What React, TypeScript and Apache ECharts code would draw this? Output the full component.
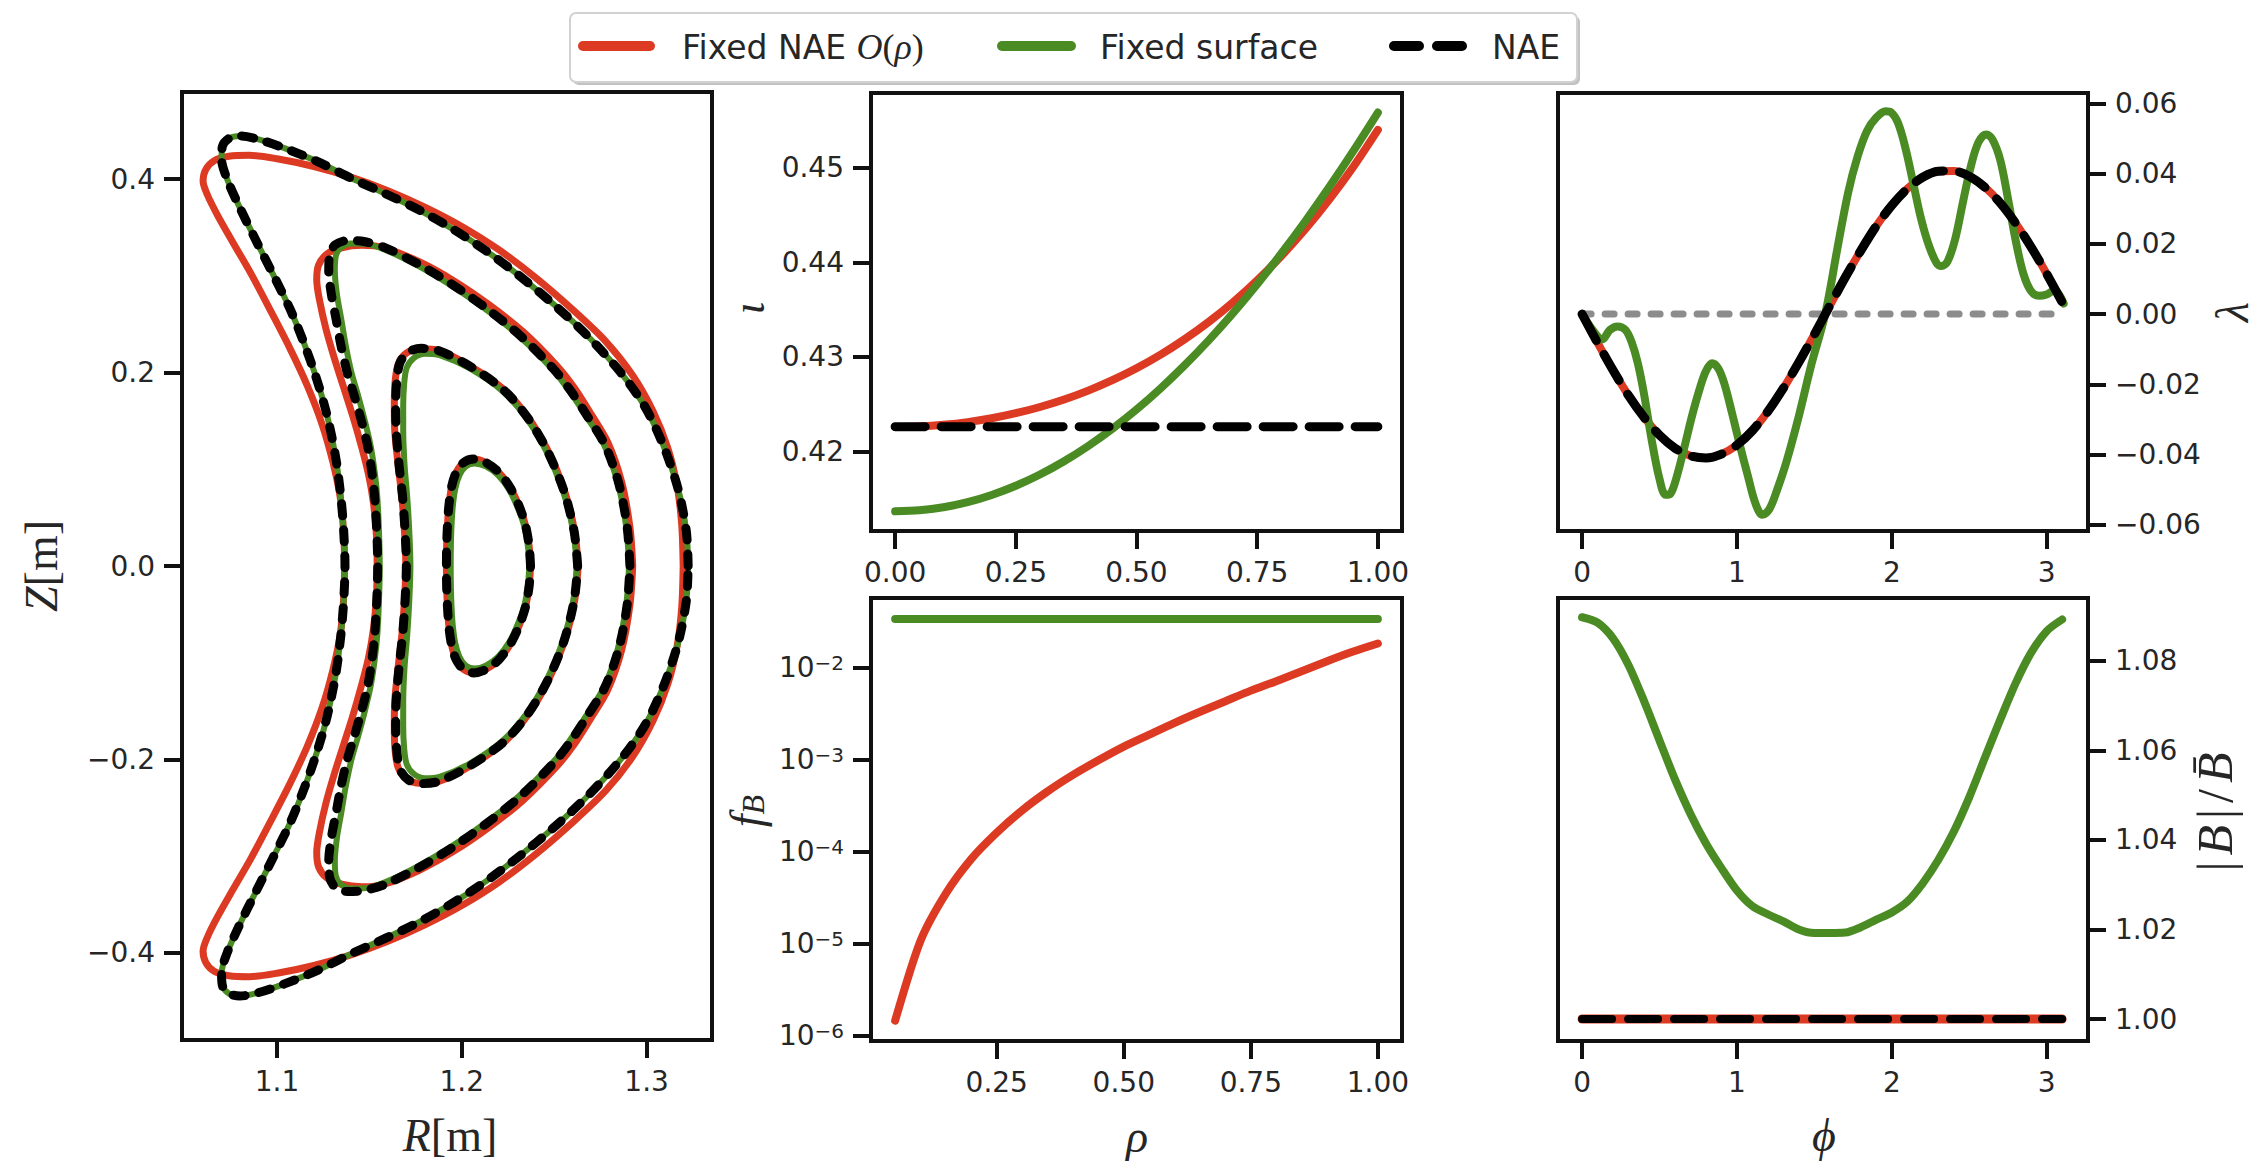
import React, { useEffect, useRef } from "react";
import * as echarts from "echarts";

// ---------- colours ----------
const RED = "#dd3a23";
const GREEN = "#4b8b24";
const BLACK = "#000000";
const GREY = "#8c8c8c";
const INK = "#111111";
const TEXT = "#262626";

// ---------- tick values ----------
const rTicks = [1.1, 1.2, 1.3];
const zTicks = [-0.4, -0.2, 0, 0.2, 0.4];
const rhoTicksTop = [0, 0.25, 0.5, 0.75, 1];
const iotaTicks = [0.42, 0.43, 0.44, 0.45];
const rhoTicksBottom = [0.25, 0.5, 0.75, 1];
const fbTicks = [1e-6, 1e-5, 1e-4, 1e-3, 1e-2];
const phiTicks = [0, 1, 2, 3];
const lambdaTicks = [-0.06, -0.04, -0.02, 0, 0.02, 0.04, 0.06];
const bTicks = [1.0, 1.02, 1.04, 1.06, 1.08];

// ---------- cross-section (R, Z) ----------
// upper halves: outboard point -> over the top -> inboard point
// lower halves: inboard point -> underneath -> outboard point
const naeOuterUpper = [
  [1.3225, 0.0], [1.3215, 0.036], [1.317, 0.08], [1.309, 0.125], [1.299, 0.165], [1.286, 0.2], [1.268, 0.238],
  [1.25, 0.27], [1.2315, 0.2995], [1.213, 0.326], [1.195, 0.3485], [1.177, 0.368], [1.1585, 0.385], [1.14, 0.401],
  [1.122, 0.418], [1.104, 0.432], [1.09, 0.441], [1.08, 0.4445], [1.074, 0.442], [1.0705, 0.434], [1.07, 0.421],
  [1.073, 0.4], [1.0795, 0.372], [1.0885, 0.337], [1.098, 0.301], [1.107, 0.266], [1.1145, 0.231], [1.1215, 0.193],
  [1.1272, 0.155], [1.1318, 0.112], [1.1346, 0.071], [1.1361, 0.036], [1.1368, 0.0],
];
const naeOuterLower = [
  [1.1361, -0.036], [1.1346, -0.071], [1.1318, -0.112], [1.1272, -0.155], [1.1215, -0.193], [1.1145, -0.231],
  [1.107, -0.266], [1.098, -0.301], [1.0885, -0.337], [1.0795, -0.372], [1.073, -0.4], [1.07, -0.421],
  [1.0705, -0.434], [1.074, -0.442], [1.08, -0.4445], [1.09, -0.441], [1.104, -0.432], [1.122, -0.418],
  [1.14, -0.401], [1.1585, -0.385], [1.177, -0.368], [1.195, -0.3485], [1.213, -0.326], [1.2315, -0.2995],
  [1.25, -0.27], [1.268, -0.238], [1.286, -0.2], [1.299, -0.165], [1.309, -0.125], [1.317, -0.08], [1.3215, -0.036],
  [1.3225, 0.0],
];
const fixedNaeOuterUpper = [
  [1.3198, 0.0], [1.319, 0.043], [1.3165, 0.083], [1.3115, 0.122], [1.3035, 0.16], [1.2925, 0.197], [1.278, 0.232],
  [1.26, 0.265], [1.24, 0.298], [1.22, 0.327], [1.2, 0.351], [1.18, 0.371], [1.16, 0.388], [1.14, 0.402],
  [1.12, 0.413], [1.1, 0.421], [1.085, 0.4245], [1.074, 0.4235], [1.066, 0.419], [1.0615, 0.41], [1.06, 0.398],
  [1.0625, 0.383], [1.068, 0.362], [1.076, 0.335], [1.086, 0.302], [1.0965, 0.264], [1.107, 0.225], [1.1165, 0.186],
  [1.1245, 0.146], [1.1303, 0.107], [1.1342, 0.071], [1.136, 0.036], [1.1366, 0.0],
];
const fixedNaeOuterLower = [
  [1.136, -0.036], [1.1342, -0.071], [1.1303, -0.107], [1.1245, -0.146], [1.1165, -0.186], [1.107, -0.225],
  [1.0965, -0.264], [1.086, -0.302], [1.076, -0.335], [1.068, -0.362], [1.0625, -0.383], [1.06, -0.398],
  [1.0615, -0.41], [1.066, -0.419], [1.074, -0.4235], [1.085, -0.4245], [1.1, -0.421], [1.12, -0.413],
  [1.14, -0.402], [1.16, -0.388], [1.18, -0.371], [1.2, -0.351], [1.22, -0.327], [1.24, -0.298], [1.26, -0.265],
  [1.278, -0.232], [1.2925, -0.197], [1.3035, -0.16], [1.3115, -0.122], [1.3165, -0.083], [1.319, -0.043],
  [1.3198, 0.0],
];
const naeSecondUpper = [
  [1.291, 0.0], [1.2895, 0.04], [1.285, 0.085], [1.2775, 0.125], [1.2681, 0.1545], [1.259, 0.181], [1.2498, 0.2034],
  [1.2315, 0.2384], [1.2133, 0.2663], [1.195, 0.2908], [1.1767, 0.3118], [1.1584, 0.3292], [1.147, 0.3355],
  [1.138, 0.3365], [1.1315, 0.332], [1.1285, 0.322], [1.128, 0.305], [1.1295, 0.28], [1.132, 0.255], [1.1346, 0.228],
  [1.138, 0.2], [1.1419, 0.1755], [1.146, 0.148], [1.1492, 0.123], [1.1515, 0.095], [1.1529, 0.0706], [1.154, 0.035],
  [1.1545, 0.0],
];
const naeSecondLower = [
  [1.154, -0.035], [1.1529, -0.0706], [1.1515, -0.095], [1.1492, -0.123], [1.146, -0.148], [1.1419, -0.1755],
  [1.138, -0.2], [1.1346, -0.228], [1.132, -0.255], [1.1295, -0.28], [1.128, -0.305], [1.1285, -0.322],
  [1.1315, -0.332], [1.138, -0.3365], [1.147, -0.3355], [1.1584, -0.3292], [1.1767, -0.3118], [1.195, -0.2908],
  [1.2133, -0.2663], [1.2315, -0.2384], [1.2498, -0.2034], [1.259, -0.181], [1.2681, -0.1545], [1.2775, -0.125],
  [1.285, -0.085], [1.2895, -0.04], [1.291, 0.0],
];
const fixedNaeSecondUpper = [
  [1.2925, 0.0], [1.291, 0.04], [1.2865, 0.087], [1.279, 0.128], [1.27, 0.157], [1.261, 0.184], [1.2515, 0.207],
  [1.233, 0.2425], [1.2145, 0.2705], [1.196, 0.2945], [1.177, 0.3145], [1.158, 0.329], [1.146, 0.3315],
  [1.135, 0.329], [1.127, 0.3225], [1.1225, 0.311], [1.1215, 0.296], [1.123, 0.275], [1.1265, 0.245], [1.131, 0.215],
  [1.136, 0.185], [1.141, 0.155], [1.1455, 0.125], [1.1495, 0.095], [1.1522, 0.065], [1.1538, 0.032], [1.1542, 0.0],
];
const fixedNaeSecondLower = [
  [1.1538, -0.032], [1.1522, -0.065], [1.1495, -0.095], [1.1455, -0.125], [1.141, -0.155], [1.136, -0.185],
  [1.131, -0.215], [1.1265, -0.245], [1.123, -0.275], [1.1215, -0.296], [1.1225, -0.311], [1.127, -0.3225],
  [1.135, -0.329], [1.146, -0.3315], [1.158, -0.329], [1.177, -0.3145], [1.196, -0.2945], [1.2145, -0.2705],
  [1.233, -0.2425], [1.2515, -0.207], [1.261, -0.184], [1.27, -0.157], [1.279, -0.128], [1.2865, -0.087],
  [1.291, -0.04], [1.2925, 0.0],
];
const surfaceSecondUpper = [
  [1.2905, 0.0], [1.289, 0.04], [1.2845, 0.085], [1.277, 0.125], [1.2676, 0.154], [1.2585, 0.18], [1.2493, 0.203],
  [1.231, 0.2378], [1.2128, 0.2655], [1.1945, 0.2898], [1.1762, 0.3105], [1.1584, 0.327], [1.148, 0.333],
  [1.14, 0.3335], [1.1345, 0.329], [1.1318, 0.32], [1.1313, 0.305], [1.1325, 0.28], [1.1348, 0.255], [1.1372, 0.228],
  [1.1403, 0.2], [1.144, 0.1755], [1.1478, 0.148], [1.1508, 0.123], [1.153, 0.095], [1.1543, 0.0706], [1.1552, 0.035],
  [1.1556, 0.0],
];
const surfaceSecondLower = [
  [1.1552, -0.035], [1.1543, -0.0706], [1.153, -0.095], [1.1508, -0.123], [1.1478, -0.148], [1.144, -0.1755],
  [1.1403, -0.2], [1.1372, -0.228], [1.1348, -0.255], [1.1325, -0.28], [1.1313, -0.305], [1.1318, -0.32],
  [1.1345, -0.329], [1.14, -0.3335], [1.148, -0.333], [1.1584, -0.327], [1.1762, -0.3105], [1.1945, -0.2898],
  [1.2128, -0.2655], [1.231, -0.2378], [1.2493, -0.203], [1.2585, -0.18], [1.2676, -0.154], [1.277, -0.125],
  [1.2845, -0.085], [1.289, -0.04], [1.2905, 0.0],
];
const naeThirdUpper = [
  [1.2627, 0.0], [1.2608, 0.0356], [1.2553, 0.0776], [1.2462, 0.1195], [1.2352, 0.1545], [1.2224, 0.1824],
  [1.2041, 0.2069], [1.1876, 0.2226], [1.178, 0.225], [1.171, 0.221], [1.1665, 0.21], [1.1648, 0.19],
  [1.1642, 0.1655], [1.1645, 0.1405], [1.166, 0.1056], [1.168, 0.0706], [1.1693, 0.0356], [1.17, 0.0],
];
const naeThirdLower = [
  [1.1693, -0.0356], [1.168, -0.0706], [1.166, -0.1056], [1.1645, -0.1405], [1.1642, -0.1655], [1.1648, -0.19],
  [1.1665, -0.21], [1.171, -0.221], [1.178, -0.225], [1.1876, -0.2226], [1.2041, -0.2069], [1.2224, -0.1824],
  [1.2352, -0.1545], [1.2462, -0.1195], [1.2553, -0.0776], [1.2608, -0.0356], [1.2627, 0.0],
];
const fixedNaeThirdUpper = [
  [1.263, 0.0], [1.2611, 0.0356], [1.2556, 0.0778], [1.2465, 0.1198], [1.2355, 0.1548], [1.2226, 0.1828],
  [1.2041, 0.2073], [1.1876, 0.2228], [1.1775, 0.2245], [1.17, 0.22], [1.1655, 0.208], [1.1638, 0.188],
  [1.1635, 0.1655], [1.1637, 0.1405], [1.1655, 0.1056], [1.1676, 0.0706], [1.169, 0.0356], [1.1697, 0.0],
];
const fixedNaeThirdLower = [
  [1.169, -0.0356], [1.1676, -0.0706], [1.1655, -0.1056], [1.1637, -0.1405], [1.1635, -0.1655], [1.1638, -0.188],
  [1.1655, -0.208], [1.17, -0.22], [1.1775, -0.2245], [1.1876, -0.2228], [1.2041, -0.2073], [1.2226, -0.1828],
  [1.2355, -0.1548], [1.2465, -0.1198], [1.2556, -0.0778], [1.2611, -0.0356], [1.263, 0.0],
];
const surfaceThirdUpper = [
  [1.2622, 0.0], [1.2603, 0.0356], [1.2548, 0.0772], [1.2457, 0.1188], [1.2347, 0.1535], [1.2219, 0.181],
  [1.2041, 0.2045], [1.188, 0.218], [1.18, 0.2195], [1.174, 0.215], [1.1702, 0.205], [1.1688, 0.188],
  [1.1683, 0.1655], [1.1683, 0.1405], [1.169, 0.1056], [1.1705, 0.0706], [1.1716, 0.0356], [1.1722, 0.0],
];
const surfaceThirdLower = [
  [1.1716, -0.0356], [1.1705, -0.0706], [1.169, -0.1056], [1.1683, -0.1405], [1.1683, -0.1655], [1.1688, -0.188],
  [1.1702, -0.205], [1.174, -0.215], [1.18, -0.2195], [1.188, -0.218], [1.2041, -0.2045], [1.2219, -0.181],
  [1.2347, -0.1535], [1.2457, -0.1188], [1.2548, -0.0772], [1.2603, -0.0356], [1.2622, 0.0],
];
const naeInnerUpper = [
  [1.2372, 0.0], [1.2365, 0.02], [1.2345, 0.042], [1.231, 0.062], [1.2262, 0.081], [1.22, 0.097], [1.213, 0.107],
  [1.2065, 0.1105], [1.201, 0.107], [1.197, 0.097], [1.1945, 0.082], [1.193, 0.062], [1.1922, 0.04], [1.1918, 0.02],
  [1.1917, 0.0],
];
const naeInnerLower = [
  [1.1918, -0.02], [1.1922, -0.04], [1.193, -0.062], [1.1945, -0.082], [1.197, -0.097], [1.201, -0.107],
  [1.2065, -0.1105], [1.213, -0.107], [1.22, -0.097], [1.2262, -0.081], [1.231, -0.062], [1.2345, -0.042],
  [1.2365, -0.02], [1.2372, 0.0],
];
const surfaceInnerUpper = [
  [1.2365, 0.0], [1.2358, 0.02], [1.2338, 0.041], [1.2303, 0.06], [1.2256, 0.079], [1.2196, 0.094], [1.213, 0.103],
  [1.207, 0.106], [1.2022, 0.103], [1.1988, 0.094], [1.1965, 0.08], [1.1951, 0.061], [1.1944, 0.04], [1.1941, 0.02],
  [1.194, 0.0],
];
const surfaceInnerLower = [
  [1.1941, -0.02], [1.1944, -0.04], [1.1951, -0.061], [1.1965, -0.08], [1.1988, -0.094], [1.2022, -0.103],
  [1.207, -0.106], [1.213, -0.103], [1.2196, -0.094], [1.2256, -0.079], [1.2303, -0.06], [1.2338, -0.041],
  [1.2358, -0.02], [1.2365, 0.0],
];

// ---------- rotational transform vs rho ----------
const rho = [0, 0.05, 0.1, 0.15, 0.2, 0.25, 0.3, 0.35, 0.4, 0.45, 0.5, 0.55, 0.6, 0.65, 0.7, 0.75, 0.8, 0.85, 0.9, 0.95, 1.0];
const iotaFixedNae = [0.4226, 0.42266, 0.42283, 0.42311, 0.42352, 0.42405, 0.42471, 0.4255, 0.42644, 0.42754, 0.4288,
  0.43024, 0.43188, 0.43372, 0.43579, 0.4381, 0.44067, 0.44352, 0.44668, 0.45016, 0.454];
const iotaFixedSurface = [0.41368, 0.41379, 0.41411, 0.41465, 0.41541, 0.41638, 0.41757, 0.41897, 0.42059, 0.42241,
  0.42444, 0.42668, 0.42913, 0.43178, 0.43463, 0.43768, 0.44093, 0.44437, 0.44801, 0.45183, 0.45583];
const iotaNae = [0.42263, 0.42263, 0.42263, 0.42263, 0.42263, 0.42263, 0.42263, 0.42263, 0.42263, 0.42263, 0.42263,
  0.42263, 0.42263, 0.42263, 0.42263, 0.42263, 0.42263, 0.42263, 0.42263, 0.42263, 0.42263];

// ---------- f_B vs rho ----------
const rhoFb = [0.05, 0.1, 0.15, 0.2, 0.25, 0.3, 0.35, 0.4, 0.45, 0.5, 0.55, 0.6, 0.65, 0.7, 0.75, 0.8, 0.85, 0.9, 0.95, 1.0];
const fbFixedNae = [1.45e-6, 1.07e-5, 3.5e-5, 8.3e-5, 1.6e-4, 2.8e-4, 4.5e-4, 6.8e-4, 9.8e-4, 1.38e-3, 1.86e-3, 2.5e-3,
  3.3e-3, 4.3e-3, 5.6e-3, 7.1e-3, 9.1e-3, 1.17e-2, 1.48e-2, 1.82e-2];
const fbFixedSurface = [0.0337, 0.0337, 0.0337, 0.0337, 0.0337, 0.0337, 0.0337, 0.0337, 0.0337, 0.0337, 0.0337, 0.0337,
  0.0337, 0.0337, 0.0337, 0.0337, 0.0337, 0.0337, 0.0337, 0.0337];

// ---------- lambda and |B| vs phi ----------
const phi = [0, 0.1, 0.2, 0.3, 0.4, 0.5, 0.6, 0.7, 0.8, 0.9, 1.0, 1.1, 1.2, 1.3, 1.4, 1.5, 1.6, 1.7, 1.8, 1.9, 2.0, 2.1,
  2.2, 2.3, 2.4, 2.5, 2.6, 2.7, 2.8, 2.9, 3.0, 3.1];
const lambdaNae = [0, -0.0082, -0.016, -0.0232, -0.0294, -0.0345, -0.0382, -0.0404, -0.041, -0.0399, -0.0373, -0.0332,
  -0.0277, -0.0211, -0.0137, -0.0058, 0.0024, 0.0105, 0.0181, 0.0251, 0.031, 0.0357, 0.039, 0.0407, 0.0408, 0.0393,
  0.0362, 0.0317, 0.0259, 0.0191, 0.0115, 0.0034];
const lambdaFixedNae = [0, -0.0082, -0.016, -0.0232, -0.0294, -0.0345, -0.0382, -0.0404, -0.041, -0.0399, -0.0373,
  -0.0332, -0.0277, -0.0211, -0.0137, -0.0058, 0.0024, 0.0105, 0.0181, 0.0251, 0.031, 0.0357, 0.039, 0.0407, 0.0408,
  0.0393, 0.0362, 0.0317, 0.0259, 0.0191, 0.0115, 0.0034];
const phiSurface = [0, 0.06, 0.13, 0.18, 0.228, 0.28, 0.32, 0.36, 0.4, 0.45, 0.5, 0.54, 0.57, 0.61, 0.66, 0.71, 0.76,
  0.8, 0.84, 0.88, 0.92, 0.97, 1.02, 1.07, 1.12, 1.165, 1.21, 1.26, 1.32, 1.4, 1.48, 1.57, 1.65, 1.72, 1.78, 1.84, 1.9,
  1.96, 1.995, 2.04, 2.09, 2.14, 2.19, 2.24, 2.29, 2.32, 2.36, 2.41, 2.46, 2.51, 2.56, 2.61, 2.65, 2.7, 2.75, 2.8,
  2.85, 2.9, 2.95, 3.0, 3.05, 3.11];
const lambdaSurface = [0, -0.004, -0.0072, -0.0045, -0.0035, -0.0045, -0.008, -0.014, -0.0228, -0.036, -0.047, -0.0515,
  -0.0512, -0.0465, -0.038, -0.029, -0.0212, -0.0162, -0.014, -0.0155, -0.02, -0.0285, -0.0375, -0.046, -0.054, -0.0572,
  -0.0555, -0.05, -0.042, -0.029, -0.0145, 0, 0.019, 0.035, 0.045, 0.0522, 0.056, 0.0578, 0.0575, 0.0545, 0.047, 0.037,
  0.027, 0.0195, 0.0145, 0.0137, 0.015, 0.0215, 0.032, 0.042, 0.049, 0.0512, 0.0498, 0.044, 0.033, 0.021, 0.0115,
  0.0065, 0.0052, 0.0056, 0.0068, 0.003];
const phiZero = [0, 3.11];
const lambdaZero = [0, 0];
const bFixedSurface = [1.0897, 1.0885, 1.085, 1.079, 1.071, 1.0622, 1.0535, 1.0458, 1.0392, 1.0337, 1.0287, 1.0252,
  1.0234, 1.0218, 1.02, 1.0192, 1.0192, 1.0193, 1.0205, 1.0222, 1.0238, 1.0262, 1.0303, 1.0355, 1.0418, 1.0495,
  1.0582, 1.0668, 1.075, 1.0818, 1.0866, 1.0892];
const bNae = [1, 1, 1, 1, 1, 1, 1, 1, 1, 1, 1, 1, 1, 1, 1, 1, 1, 1, 1, 1, 1, 1, 1, 1, 1, 1, 1, 1, 1, 1, 1, 1];
const bFixedNae = [1, 1, 1, 1, 1, 1, 1, 1, 1, 1, 1, 1, 1, 1, 1, 1, 1, 1, 1, 1, 1, 1, 1, 1, 1, 1, 1, 1, 1, 1, 1, 1];

// ---------- helpers ----------
const zip = (xs: number[], ys: number[]) => xs.map((x, i) => [x, ys[i]]);
const minus = (s: string) => s.replace("-", "\u2212");

const TICK_FONT = { fontFamily: "DejaVu Sans", fontSize: 28, color: TEXT };

function axis(gridIndex: number, min: number, max: number, ticks: number[], fmt: any, extra: any = {}) {
  return {
    type: "value",
    gridIndex,
    min,
    max,
    axisLine: { show: false, onZero: false },
    splitLine: { show: false },
    axisTick: { show: true, customValues: ticks, length: 18, lineStyle: { color: INK, width: 4 } },
    axisLabel: { show: true, customValues: ticks, formatter: fmt, margin: 27, ...TICK_FONT },
    ...extra,
  };
}

function line(idx: number, data: any[], color: string, width: number, opts: any = {}) {
  return {
    type: "line",
    xAxisIndex: idx,
    yAxisIndex: idx,
    data,
    symbol: "none",
    showSymbol: false,
    silent: true,
    smooth: opts.smooth ?? 0,
    lineStyle: {
      color,
      width,
      type: opts.dash ?? "solid",
      cap: "round",
      join: "round",
    },
  };
}

const fmt1 = (v: number) => minus(v.toFixed(1));
const fmt2 = (v: number) => minus(v.toFixed(2));
const fmtInt = (v: number) => String(Math.round(v));
const fmtPow = (v: number) => `{b|10}{s|\u2212${Math.abs(Math.round(Math.log10(v)))}}`;

const leftDash = [12, 14];
const plotDash = [30, 16];

const contourSeries = [
  // Fixed NAE O(rho)
  line(0, [...fixedNaeOuterUpper, ...fixedNaeOuterLower], RED, 7, { smooth: 0.3 }),
  line(0, [...fixedNaeSecondUpper, ...fixedNaeSecondLower], RED, 7, { smooth: 0.3 }),
  line(0, [...fixedNaeThirdUpper, ...fixedNaeThirdLower], RED, 7, { smooth: 0.3 }),
  line(0, [...naeInnerUpper, ...naeInnerLower], RED, 7, { smooth: 0.3 }),
  // Fixed surface
  line(0, [...naeOuterUpper, ...naeOuterLower], GREEN, 6, { smooth: 0.3 }),
  line(0, [...surfaceSecondUpper, ...surfaceSecondLower], GREEN, 6, { smooth: 0.3 }),
  line(0, [...surfaceThirdUpper, ...surfaceThirdLower], GREEN, 6, { smooth: 0.3 }),
  line(0, [...surfaceInnerUpper, ...surfaceInnerLower], GREEN, 6, { smooth: 0.3 }),
  // NAE
  line(0, [...naeOuterUpper, ...naeOuterLower], BLACK, 9, { smooth: 0.3, dash: leftDash }),
  line(0, [...naeSecondUpper, ...naeSecondLower], BLACK, 9, { smooth: 0.3, dash: leftDash }),
  line(0, [...naeThirdUpper, ...naeThirdLower], BLACK, 9, { smooth: 0.3, dash: leftDash }),
  line(0, [...naeInnerUpper, ...naeInnerLower], BLACK, 9, { smooth: 0.3, dash: leftDash }),
];

const option: any = {
  animation: false,
  backgroundColor: "#ffffff",
  textStyle: { fontFamily: "DejaVu Sans" },
  grid: [
    { left: 182, top: 92, width: 530, height: 948 },
    { left: 871, top: 93, width: 531, height: 438 },
    { left: 871, top: 598, width: 531, height: 443 },
    { left: 1558, top: 93, width: 530, height: 438 },
    { left: 1558, top: 598, width: 530, height: 443 },
  ].map((g) => ({ ...g, show: true, borderColor: INK, borderWidth: 4, backgroundColor: "transparent", containLabel: false })),
  xAxis: [
    axis(0, 1.0486, 1.3354, rTicks, fmt1),
    axis(1, -0.05, 1.05, rhoTicksTop, fmt2),
    axis(2, 0.0025, 1.0475, rhoTicksBottom, fmt2),
    axis(3, -0.1556, 3.2672, phiTicks, fmtInt),
    axis(4, -0.1556, 3.2672, phiTicks, fmtInt),
  ],
  yAxis: [
    axis(0, -0.49, 0.49, zTicks, fmt1),
    axis(1, 0.4116, 0.4579, iotaTicks, fmt2),
    {
      type: "log",
      logBase: 10,
      gridIndex: 2,
      min: 8.7e-7,
      max: 0.0569,
      axisLine: { show: false, onZero: false },
      splitLine: { show: false },
      minorTick: { show: false },
      axisTick: { show: true, customValues: fbTicks, length: 18, lineStyle: { color: INK, width: 4 } },
      axisLabel: {
        show: true,
        customValues: fbTicks,
        formatter: fmtPow,
        margin: 27,
        rich: {
          b: { fontFamily: "DejaVu Sans", fontSize: 28, color: TEXT },
          s: { fontFamily: "DejaVu Sans", fontSize: 20, color: TEXT, verticalAlign: "top", lineHeight: 12 },
        },
      },
    },
    axis(3, -0.0618, 0.063, lambdaTicks, fmt2, { position: "right" }),
    axis(4, 0.9951, 1.094, bTicks, fmt2, { position: "right" }),
  ],
  series: [
    ...contourSeries,
    // iota
    line(1, zip(rho, iotaFixedNae), RED, 8, { smooth: 0.3 }),
    line(1, zip(rho, iotaFixedSurface), GREEN, 8, { smooth: 0.3 }),
    line(1, zip(rho, iotaNae), BLACK, 9, { dash: plotDash }),
    // f_B
    line(2, zip(rhoFb, fbFixedNae), RED, 8, { smooth: 0.25 }),
    line(2, zip(rhoFb, fbFixedSurface), GREEN, 8),
    // lambda
    line(3, zip(phiZero, lambdaZero), GREY, 7, { dash: [9, 14] }),
    line(3, zip(phi, lambdaFixedNae), RED, 8, { smooth: 0.3 }),
    line(3, zip(phiSurface, lambdaSurface), GREEN, 8, { smooth: 0.35 }),
    line(3, zip(phi, lambdaNae), BLACK, 9, { smooth: 0.3, dash: plotDash }),
    // |B|
    line(4, zip(phi, bFixedNae), RED, 9),
    line(4, zip(phi, bFixedSurface), GREEN, 8, { smooth: 0.3 }),
    line(4, zip(phi, bNae), BLACK, 8, { dash: plotDash }),
  ],
};

// ---------- axis titles and legend ----------
const serifIt = { fontFamily: "Liberation Serif, DejaVu Serif", fontStyle: "italic", fontSize: 46, fill: TEXT };
const serifUp = { fontFamily: "Liberation Serif, DejaVu Serif", fontSize: 46, fill: TEXT };
const titleRich = {
  i: serifIt,
  n: serifUp,
  sb: { ...serifIt, fontSize: 32, verticalAlign: "bottom", lineHeight: 22 },
  w: { ...serifUp, fontSize: 50, padding: [0, 3, 0, 3] },
  wi: { ...serifIt, fontSize: 50, padding: [0, 3, 0, 3] },
};

function title(x: number, y: number, text: string, rotated = false) {
  return {
    type: "text",
    x,
    y,
    rotation: rotated ? Math.PI / 2 : 0,
    silent: true,
    style: { text, rich: titleRich, align: "center", verticalAlign: "middle", fill: TEXT },
  };
}

const legendRich = {
  t: { fontFamily: "DejaVu Sans", fontSize: 33, fill: TEXT },
  m: { fontFamily: "Liberation Serif, DejaVu Serif", fontStyle: "italic", fontSize: 36, fill: TEXT },
  p: { fontFamily: "Liberation Serif, DejaVu Serif", fontSize: 36, fill: TEXT },
};

function legendText(x: number, text: string) {
  return {
    type: "text",
    x,
    y: 47,
    silent: true,
    z: 103,
    style: { text, rich: legendRich, align: "left", verticalAlign: "middle", fill: TEXT },
  };
}

function legendLine(x1: number, x2: number, color: string, dash?: number[]) {
  return {
    type: "line",
    silent: true,
    z: 102,
    shape: { x1, y1: 46, x2, y2: 46 },
    style: { stroke: color, lineWidth: 10, lineCap: "round", lineDash: dash },
  };
}

option.graphic = [
  title(41, 566, "{i|Z}{n|[m]}", true),
  title(450, 1135, "{i|R}{n|[m]}"),
  title(748, 308, "{i|ι}", true),
  title(746, 811, "{i|f}{sb|B}", true),
  title(1137, 1136, "{i|ρ}"),
  title(1824, 1135, "{i|ϕ}"),
  title(2232, 312, "{i|λ}", true),
  title(2215, 812, "{w||}{wi|B}{w||}{w|/}{wi|B\u0304}", true),
  {
    type: "rect",
    silent: true,
    z: 100,
    shape: { x: 573, y: 16, width: 1007, height: 69, r: 6 },
    style: { fill: "#c2c2c2" },
  },
  {
    type: "rect",
    silent: true,
    z: 101,
    shape: { x: 570, y: 13, width: 1007, height: 69, r: 6 },
    style: { fill: "#ffffff", stroke: "#d2d2d2", lineWidth: 2 },
  },
  legendLine(583, 650, RED),
  legendText(682, "{t|Fixed NAE }{m|O}{p|(}{m|ρ}{p|)}"),
  legendLine(1002, 1071, GREEN),
  legendText(1100, "{t|Fixed surface}"),
  legendLine(1394, 1462, BLACK, [25, 18]),
  legendText(1492, "{t|NAE}"),
];

export default function App() {
  const ref = useRef<HTMLDivElement>(null);
  useEffect(() => {
    if (!ref.current) return;
    const chart = echarts.init(ref.current, undefined, { renderer: "svg", width: 2264, height: 1161 });
    chart.setOption(option);
    return () => chart.dispose();
  }, []);
  return (
    <div
      ref={ref}
      style={{ position: "fixed", left: 0, top: 0, width: 2264, height: 1161, background: "#ffffff" }}
    />
  );
}
